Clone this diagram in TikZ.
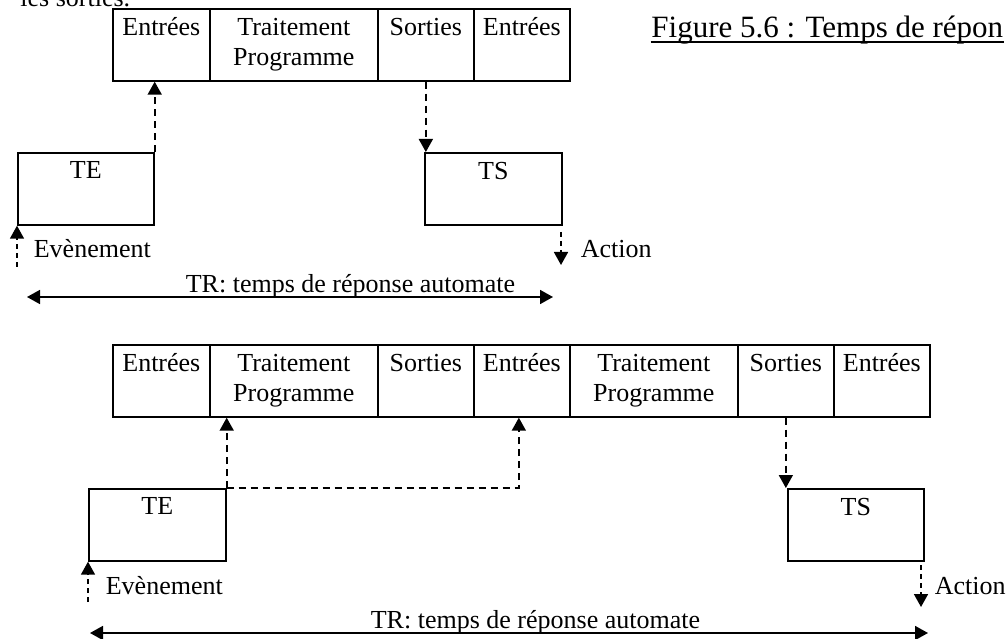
\documentclass[tikz,border=0pt]{standalone}
\usepackage{fontspec}
\setmainfont{Liberation Serif}
\usetikzlibrary{arrows.meta}

\tikzset{
    cell/.style={draw,rectangle,anchor=north west,minimum height=72pt,inner sep=0pt},
    celltext/.style={anchor=north,inner sep=0pt,yshift=-9pt,align=center},
    dashline/.style={draw,dash pattern=on 7pt off 5pt},
    shortdash/.style={draw,dash pattern=on 5pt off 4pt}
}

\begin{document}
\begin{tikzpicture}[x=1pt,y=-1pt,line width=1.7pt,
                    font=\fontsize{26}{30}\selectfont,
                    >={Triangle[length=13pt,width=14pt]}]
\useasboundingbox (0,0) rectangle (1007,639);

% text cut by the page edges
\node[anchor=base east,inner sep=0pt] (prev) at (131,7) {les sorties.};
\node[anchor=base east,inner sep=0pt,font=\fontsize{31}{34}\selectfont] (fig) at (1004,38) {Figure 5.6 : Temps de répon};
\draw[line width=1.4pt] ([yshift=-4pt]fig.base west) -- ([yshift=-4pt]fig.base east);

% first cycle
\node[cell,minimum width=97pt,label={[celltext]north:Entrées}] (E1) at (112,8) {};
\node[cell,minimum width=168pt,label={[celltext]north:Traitement\\Programme}] (T1) at (209,8) {};
\node[cell,minimum width=96pt,label={[celltext]north:Sorties}] (S1) at (377,8) {};
\node[cell,minimum width=96pt,label={[celltext]north:Entrées}] (E1b) at (473,8) {};

\node[cell,minimum width=136pt,label={[celltext]north:TE}] (TE1) at (17,152) {};
\node[cell,minimum width=137pt,label={[celltext]north:TS}] (TS1) at (424,152) {};

\coordinate (ev1) at (17,267);
\coordinate (act1) at (561,232);
\coordinate (act1end) at (561,265);
\coordinate (tr1a) at (27,297);
\coordinate (tr1b) at (553,297);

\node[anchor=base west,inner sep=0pt] (evtxt1) at (33,258) {Evènement};
\node[anchor=base west,inner sep=0pt] (acttxt1) at (580,258) {Action};
\node[anchor=base west,inner sep=0pt] (trtxt1) at (185,292) {TR: temps de réponse automate};

% second cycle
\node[cell,minimum width=97pt,label={[celltext]north:Entrées}] (E2) at (112,344) {};
\node[cell,minimum width=168pt,label={[celltext]north:Traitement\\Programme}] (T2) at (209,344) {};
\node[cell,minimum width=96pt,label={[celltext]north:Sorties}] (S2) at (377,344) {};
\node[cell,minimum width=96pt,label={[celltext]north:Entrées}] (E2b) at (473,344) {};
\node[cell,minimum width=168pt,label={[celltext]north:Traitement\\Programme}] (T2b) at (569,344) {};
\node[cell,minimum width=96pt,label={[celltext]north:Sorties}] (S2b) at (737,344) {};
\node[cell,minimum width=96pt,label={[celltext]north:Entrées}] (E2c) at (833,344) {};

\node[cell,minimum width=137pt,label={[celltext]north:TE}] (TE2) at (88,488) {};
\node[cell,minimum width=136pt,label={[celltext]north:TS}] (TS2) at (787,488) {};

\coordinate (ev2) at (88,602);
\coordinate (act2) at (921,565);
\coordinate (act2end) at (921,607);
\coordinate (tr2a) at (90,633);
\coordinate (tr2b) at (928,633);

\node[anchor=base west,inner sep=0pt] (evtxt2) at (105,594) {Evènement};
\node[anchor=base west,inner sep=0pt] (acttxt2) at (934,594) {Action};
\node[anchor=base west,inner sep=0pt] (trtxt2) at (370,628) {TR: temps de réponse automate};

% signals
\begin{scope}[every edge/.style={dashline}]
    \path [->] (TE1.north east) edge (TE1.north east |- E1.south);
    \path [->] (S1.south) edge (S1.south |- TS1.north);
    \path [->] (TE2.north east) edge (TE2.north east |- T2.south);
    \path [->] (S2b.south) edge (S2b.south |- TS2.north);
\end{scope}
\draw[dashline,->] (TE2.north east) -| ([xshift=-3pt]E2b.south);

\begin{scope}[every edge/.style={shortdash}]
    \path [->] (ev1) edge (TE1.south west);
    \path [->] (act1) edge (act1end);
    \path [->] (ev2) edge (TE2.south west);
    \path [->] (act2) edge (act2end);
\end{scope}

% response time
\path [<->] (tr1a) edge (tr1b);
\path [<->] (tr2a) edge (tr2b);
\end{tikzpicture}
\end{document}
